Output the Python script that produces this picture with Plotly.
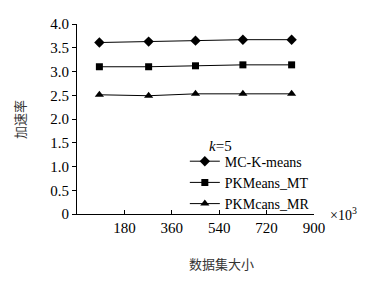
import plotly.graph_objects as go

x_vals = [85, 272, 450, 630, 815]
mc_kmeans = [3.61, 3.63, 3.65, 3.67, 3.67]
pkmeans_mt = [3.10, 3.10, 3.12, 3.14, 3.14]
pkmeans_mr = [2.51, 2.49, 2.53, 2.53, 2.53]
names = ["MC-K-means", "PKMeans_MT", "PKMcans_MR"]
symbols = ["diamond", "square", "triangle-up"]
x_ticks = [180, 360, 540, 720, 900]
y_ticks = [0, 0.5, 1.0, 1.5, 2.0, 2.5, 3.0, 3.5, 4.0]
y_ticktext = ["0", "0.5", "1.0", "1.5", "2.0", "2.5", "3.0", "3.5", "4.0"]

FONT = "Liberation Serif"
CJK = "Noto Sans CJK SC"
fig = go.Figure()
for name, ys, sym in zip(names, [mc_kmeans, pkmeans_mt, pkmeans_mr], symbols):
    fig.add_trace(go.Scatter(
        x=x_vals, y=ys, name=name, mode="lines+markers",
        line=dict(color="black", width=1),
        marker=dict(symbol=sym, size=8 if sym != "square" else 7, color="black"),
        cliponaxis=False,
    ))

fig.update_layout(
    width=387, height=281,
    margin=dict(l=77, r=73, t=24, b=67, autoexpand=False),
    paper_bgcolor="white", plot_bgcolor="white",
    font=dict(family=FONT, size=13, color="black"),
    showlegend=True,
    legend=dict(
        x=0.455, y=0.36, xanchor="left", yanchor="top",
        bgcolor="rgba(0,0,0,0)",
        font=dict(family=FONT, size=14),
        tracegroupgap=0, itemwidth=30,
    ),
    xaxis=dict(
        range=[0, 900], tickvals=x_ticks, ticktext=[str(v) for v in x_ticks],
        showgrid=False, zeroline=False, showline=True, linecolor="black", linewidth=1,
        ticks="inside", ticklen=4, tickcolor="black", automargin=False,
        tickfont=dict(family=FONT, size=15),
    ),
    yaxis=dict(
        range=[0, 4.0], tickvals=y_ticks, ticktext=y_ticktext,
        showgrid=False, zeroline=False, showline=True, linecolor="black", linewidth=1,
        ticks="outside", ticklen=4, tickcolor="black", automargin=False,
        tickfont=dict(family=FONT, size=15),
    ),
    annotations=[
        dict(text="加速率", xref="paper", yref="paper", x=-0.245, y=0.5,
             xanchor="center", yanchor="middle", showarrow=False, textangle=-90,
             font=dict(family=CJK, size=13, color="#333")),
        dict(text="数据集大小", xref="paper", yref="paper", x=(221-77)/237, y=-0.2,
             xanchor="center", yanchor="top", showarrow=False,
             font=dict(family=CJK, size=13, color="#333")),
        dict(text="×10<sup>3</sup>", xref="paper", yref="paper", x=1.06, y=0.0,
             xanchor="left", yanchor="middle", showarrow=False,
             font=dict(family=FONT, size=14)),
        dict(text="<i>k</i>=5", xref="paper", yref="paper", x=(207-77)/237, y=(214-146)/190,
             xanchor="left", yanchor="middle", showarrow=False,
             font=dict(family=FONT, size=15)),
    ],
)

fig.write_html("out.html", config={"displayModeBar": False},
               post_script="document.body.style.margin='0';")
